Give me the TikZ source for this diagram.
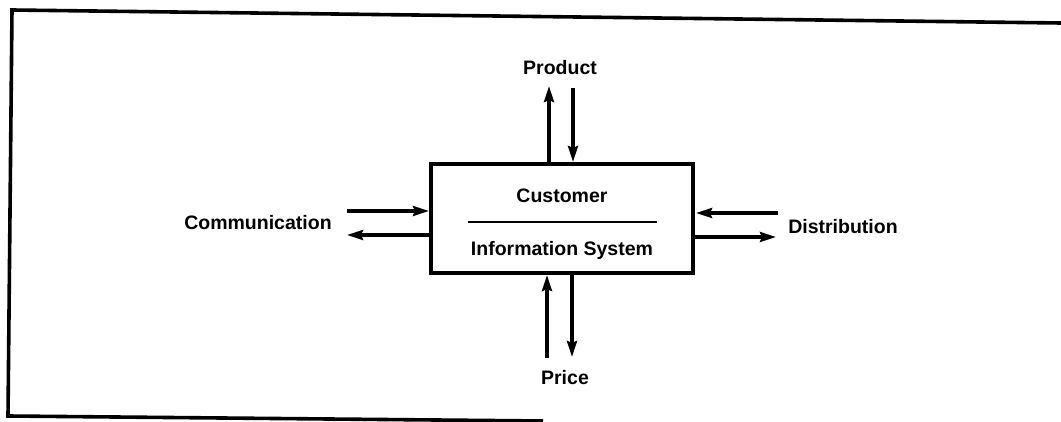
\documentclass[tikz,border=0pt]{standalone}
\usepackage{fontspec}
\setmainfont{Liberation Sans}
\usetikzlibrary{arrows.meta}
\begin{document}
\begin{tikzpicture}[x=1pt,y=-1pt,
  frame/.style={line width=3.6pt},
  flow/.style={line width=3.2pt,-{Stealth[length=16pt,width=10pt,inset=2pt]}},
  lbl/.style={font=\fontsize{19.5}{24}\selectfont\bfseries,inner sep=0pt}]
\useasboundingbox (0,0) rectangle (1061,422);
% outer frame (open at right and lower right)
\coordinate (f1) at (1061,23);
\coordinate (f2) at (12,10);
\coordinate (f3) at (8,416);
\coordinate (f4) at (543,421);
\draw[frame] (f1) -- (f2) -- (f3) -- (f4);
% central box
\node[draw,line width=3.6pt,minimum width=262pt,minimum height=109pt,inner sep=0pt] (box) at (562,218.5) {};
\node[lbl] (cust) at (562,196) {Customer};
\node[lbl] (info) at (562,250) {Information System};
\coordinate (s1) at (468,222);
\coordinate (s2) at (657,222);
\draw[line width=2.2pt] (s1) -- (s2);
% product
\node[lbl] (prod) at (560,68) {Product};
\coordinate (pu0) at (549,164);
\coordinate (pu1) at (549,86);
\coordinate (pd0) at (573,88);
\coordinate (pd1) at (573,162);
\draw[flow] (pu0) -- (pu1);
\draw[flow] (pd0) -- (pd1);
% price
\node[lbl] (price) at (565,378) {Price};
\coordinate (ru0) at (547,358);
\coordinate (ru1) at (547,275);
\coordinate (rd0) at (572,274);
\coordinate (rd1) at (572,357);
\draw[flow] (ru0) -- (ru1);
\draw[flow] (rd0) -- (rd1);
% communication
\node[lbl] (comm) at (258,223) {Communication};
\coordinate (cr0) at (347,211);
\coordinate (cr1) at (429,211);
\coordinate (cl0) at (431,235);
\coordinate (cl1) at (347,235);
\draw[flow] (cr0) -- (cr1);
\draw[flow] (cl0) -- (cl1);
% distribution
\node[lbl] (dist) at (843,227) {Distribution};
\coordinate (dl0) at (778,213);
\coordinate (dl1) at (696,213);
\coordinate (dr0) at (693,237);
\coordinate (dr1) at (776,237);
\draw[flow] (dl0) -- (dl1);
\draw[flow] (dr0) -- (dr1);
\end{tikzpicture}
\end{document}
